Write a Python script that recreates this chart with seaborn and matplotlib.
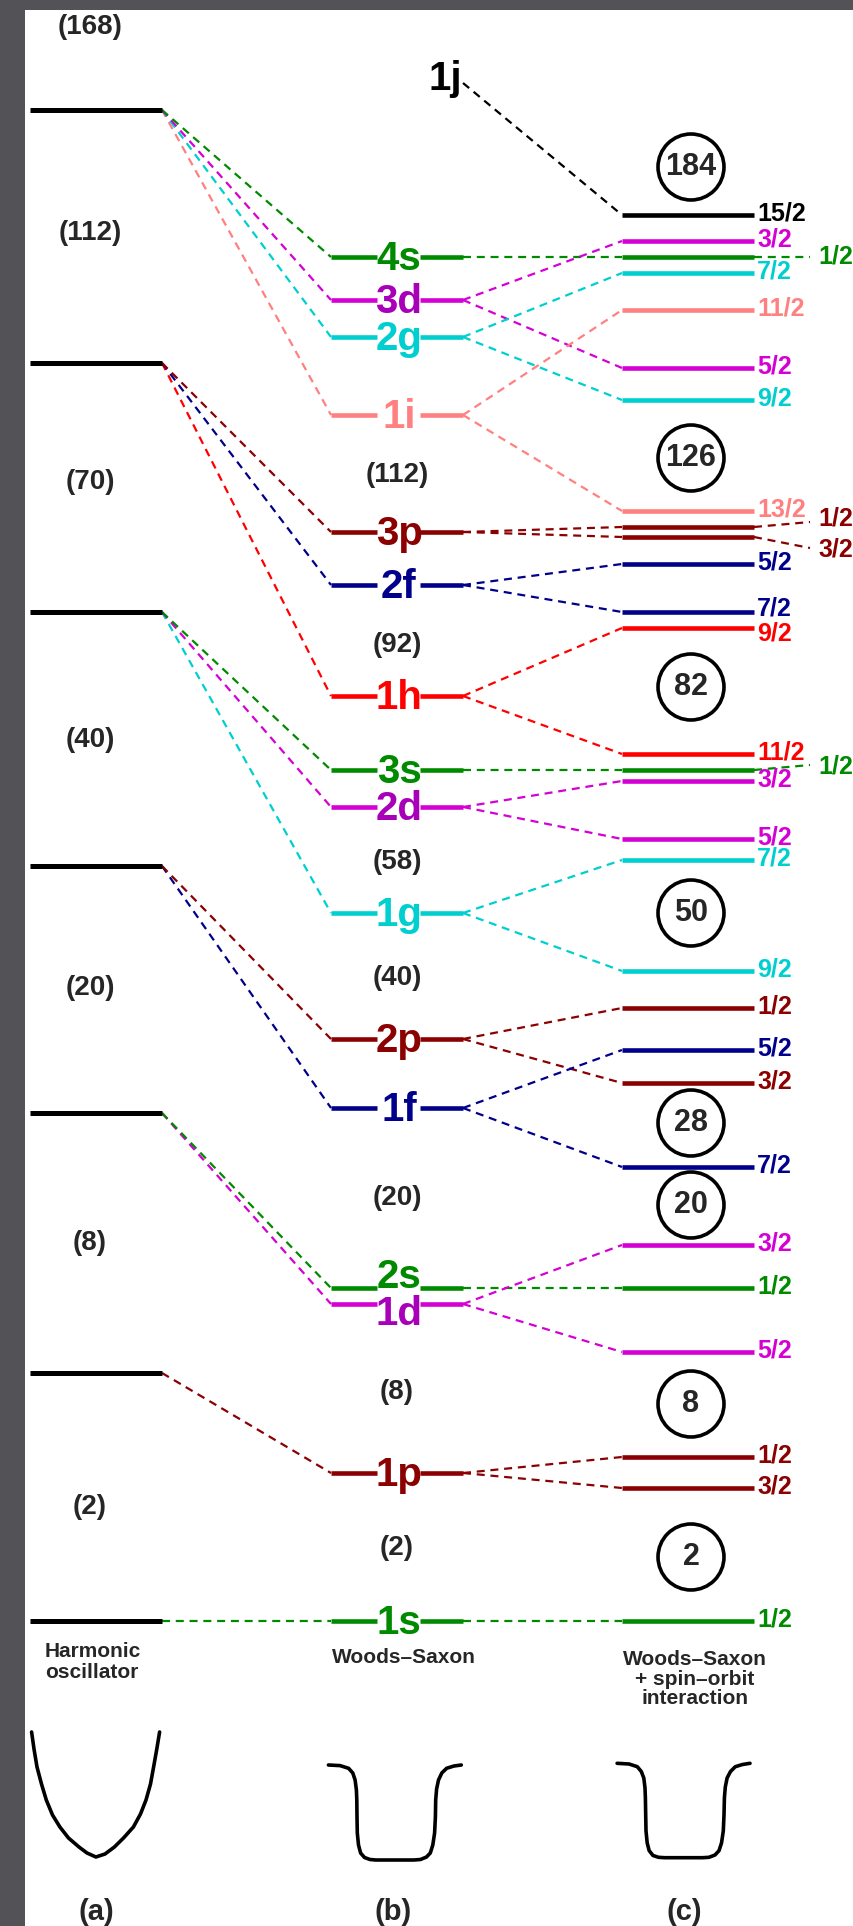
import matplotlib
matplotlib.use("Agg")
import matplotlib.pyplot as plt
import numpy as np
import pandas as pd
import seaborn as sns

sns.set_theme(style="white")
plt.rcParams["font.family"] = ["Liberation Sans", "DejaVu Sans"]
plt.rcParams["font.weight"] = "bold"

# ---------------------------------------------------------------- data
# harmonic oscillator shells N = 0..6 (energy, arbitrary units)
ho_energy = [0, 248, 508, 755, 1009, 1258, 1511]
ho_counts = ["(2)", "(8)", "(20)", "(40)", "(70)", "(112)", "(168)"]
ho_count_energy = [114, 378, 633, 881, 1139, 1388, 1594]

# Woods-Saxon orbitals
ws_orbitals = ["1s", "1p", "1d", "2s", "1f", "2p", "1g", "2d", "3s",
               "1h", "2f", "3p", "1i", "2g", "3d", "4s"]
ws_energy = [0, 148, 317, 333, 513, 582, 708, 814, 851,
             925, 1036, 1089, 1206, 1284, 1321, 1364]
ws_counts = ["(2)", "(8)", "(20)", "(40)", "(58)", "(92)", "(112)"]
ws_count_energy = [73, 229, 423, 643, 759, 976, 1146]
j1_energy = 1538  # 1j orbital, only labelled

# Woods-Saxon + spin-orbit sub-levels
so_orbital = ["1s", "1p", "1p", "1d", "2s", "1d", "1f", "2p", "1f", "2p",
              "1g", "1g", "2d", "2d", "3s", "1h", "1h", "2f", "2f", "3p",
              "3p", "1i", "2g", "3d", "1i", "2g", "4s", "3d", "1j"]
so_j = ["1/2", "3/2", "1/2", "5/2", "1/2", "3/2", "7/2", "3/2", "5/2", "1/2",
        "9/2", "7/2", "5/2", "3/2", "1/2", "11/2", "9/2", "7/2", "5/2", "3/2",
        "1/2", "13/2", "9/2", "5/2", "11/2", "7/2", "1/2", "3/2", "15/2"]
so_energy = [0, 133, 164, 269, 333, 376, 454, 538, 571, 613,
             650, 761, 782, 840, 851, 867, 993, 1009, 1057, 1084,
             1094, 1110, 1221, 1253, 1311, 1348, 1364, 1380, 1406]

magic_numbers = [2, 8, 20, 28, 50, 82, 126, 184]
magic_energy = [64, 217, 416, 498, 708, 934, 1163, 1454]

# schematic potential wells (r, V)
ho_well_r = [31.6, 34.0, 37.0, 41.5, 46.3, 52.5, 59.9, 68.5, 79.0, 87.0, 95.9,
             105.0, 114.4, 123.5, 133.4, 140.5, 146.0, 150.5, 153.6, 156.8, 159.6]
ho_well_v = [-111, -128, -146, -163, -179, -194, -206, -217, -226, -232, -236,
             -233, -226, -217, -206, -193, -179, -163, -146, -128, -111]
ws_well_r = [328.4, 340.0, 348.6, 352.8, 355.1, 356.4, 356.8, 357.0, 357.3, 358.5,
             360.6, 364.5, 370.0, 375.8, 413.9, 420.5, 426.5, 430.3, 432.8, 434.6,
             435.4, 435.7, 436.6, 438.5, 441.8, 446.6, 454.0, 461.3]
ws_well_v = [-144, -144.6, -147.3, -152, -159, -169, -179, -196, -212, -224,
             -232, -236.5, -238.5, -239, -239, -238.5, -236, -232, -224, -212,
             -196, -179, -168, -159, -152, -147.3, -145, -144]
so_well_r = [617.1, 629.0, 637.3, 641.3, 643.8, 645.0, 645.4, 645.7, 646.0, 647.2,
             649.2, 653.0, 658.5, 664.5, 702.6, 709.0, 715.0, 719.0, 721.5, 723.3,
             724.0, 724.4, 725.3, 727.1, 730.5, 735.3, 742.5, 750.0]
so_well_v = [-142.3, -143.0, -145.7, -150.5, -157, -167, -177, -194, -210, -222,
             -229.7, -234.5, -236.3, -236.7, -236.7, -236.3, -234, -229.7, -222, -210,
             -194, -177, -166, -157, -150.5, -145.7, -143.5, -142.3]

col_titles = ["Harmonic\noscillator", "Woods\u2013Saxon",
              "Woods\u2013Saxon\n+ spin\u2013orbit\ninteraction"]
panel_tags = ["(a)", "(b)", "(c)"]

# ---------------------------------------------------------------- style
family_color = {"s": "#008a00", "p": "#8b0000", "d": "#d400d4", "f": "#00008b",
                "g": "#00cfcf", "h": "#ff0000", "i": "#ff8080", "j": "#000000"}
ws_text_color = dict(family_color, d="#a800b8")
L_ORB = {"s": 0, "p": 1, "d": 2, "f": 3, "g": 4, "h": 5, "i": 6, "j": 7}

HO_X = (30, 162)
WS_X = (331, 463)
WS_GAP = (377, 420)
SO_X = (622, 754)
J_LABEL_X = 757
OUTER_X0, OUTER_X1 = 810, 816
ws_label_nudge = {"2s": 13, "1d": -8}
j_label_nudge = {("2f", "7/2"): 4, ("1h", "9/2"): -5}
# crowded sub-levels whose j label is moved outwards: (line end shift, label shift)
outer_label = {("4s", "1/2"): (0, 0), ("3s", "1/2"): (5, 3),
               ("3p", "1/2"): (5, 8), ("3p", "3/2"): (-11, -13)}

LEVEL_LW = 3.3
DASH_LW = 1.6
DASH = (0, (3.6, 2.6))


def shell_of(orb):
    n, l = int(orb[0]), L_ORB[orb[1]]
    return 2 * (n - 1) + l


# ---------------------------------------------------------------- figure
fig = plt.figure(figsize=(8.54, 19.26), dpi=100, facecolor="#525257")
ax = fig.add_axes([25 / 854, 0, 829 / 854, 1916 / 1926])
ax.set_facecolor("white")
ax.set_xlim(25, 854)
ax.set_ylim(-305, 1611)
ax.set_xticks([])
ax.set_yticks([])
for sp in ax.spines.values():
    sp.set_visible(False)

ws = pd.DataFrame({"orb": ws_orbitals, "E": ws_energy})
ws["shell"] = ws["orb"].map(shell_of)
ws["color"] = ws["orb"].str[1].map(family_color)
so = pd.DataFrame({"orb": so_orbital, "j": so_j, "E": so_energy})
so["color"] = so["orb"].str[1].map(family_color)
ws_E = dict(zip(ws["orb"], ws["E"]))
ws_E["1j"] = j1_energy

# harmonic oscillator levels and counts
ax.hlines(ho_energy, *HO_X, color="black", lw=3.6, zorder=3)
for txt, e in zip(ho_counts, ho_count_energy):
    ax.text(90, e, txt, ha="center", va="center", fontsize=20, zorder=4)

# HO -> WS connectors
for _, r in ws.iterrows():
    ax.plot([HO_X[1], WS_X[0]], [ho_energy[r["shell"]], r["E"]],
            color=r["color"], lw=DASH_LW, ls=DASH, zorder=2)

# WS levels with their names in the middle
for _, r in ws.iterrows():
    ax.hlines(r["E"], WS_X[0], WS_GAP[0], color=r["color"], lw=LEVEL_LW, zorder=3)
    ax.hlines(r["E"], WS_GAP[1], WS_X[1], color=r["color"], lw=LEVEL_LW, zorder=3)
    ax.text(399, r["E"] - 13 + ws_label_nudge.get(r["orb"], 0), r["orb"],
            ha="center", va="baseline", fontsize=29,
            color=ws_text_color[r["orb"][1]], zorder=4)
for txt, e in zip(ws_counts, ws_count_energy):
    ax.text(397, e, txt, ha="center", va="center", fontsize=20, zorder=4)
ax.text(445, j1_energy - 7, "1j", ha="center", va="baseline", fontsize=29,
        color="black", zorder=4)

# WS -> SO connectors, SO levels and j labels
for _, r in so.iterrows():
    ax.plot([WS_X[1], SO_X[0]], [ws_E[r["orb"]], r["E"]],
            color=r["color"], lw=DASH_LW, ls=DASH, zorder=2)
    ax.hlines(r["E"], *SO_X, color=r["color"], lw=LEVEL_LW, zorder=3)
    key = (r["orb"], r["j"])
    if key in outer_label:
        d_line, d_lab = outer_label[key]
        ax.plot([SO_X[1], OUTER_X0], [r["E"], r["E"] + d_line],
                color=r["color"], lw=DASH_LW, ls=DASH, zorder=2)
        ax.text(OUTER_X1 + 2, r["E"] + d_lab + 1, r["j"], ha="left", va="center",
                fontsize=18, color=r["color"], zorder=4)
    else:
        ax.text(J_LABEL_X, r["E"] + j_label_nudge.get(key, 2), r["j"],
                ha="left", va="center", fontsize=18, color=r["color"], zorder=4)

# magic numbers in circles
ax.scatter([691] * len(magic_energy), magic_energy, s=47.5 ** 2,
           facecolors="none", edgecolors="black", linewidths=2.6, zorder=3)
for m, e in zip(magic_numbers, magic_energy):
    ax.text(691, e, str(m), ha="center", va="center", fontsize=22, zorder=4)

# column titles
ax.text(45, -41, col_titles[0], ha="left", va="center", fontsize=15,
        linespacing=1.1)
ax.text(404, -36, col_titles[1], ha="center", va="center", fontsize=15)
ax.text(695, -58, col_titles[2], ha="center", va="center", fontsize=15,
        linespacing=1.05)

# potential wells
for r_, v_ in [(ho_well_r, ho_well_v), (ws_well_r, ws_well_v), (so_well_r, so_well_v)]:
    sns.lineplot(x=r_, y=v_, sort=False, estimator=None, color="black",
                 lw=2.6, ax=ax)
ax.set_xlabel("")
ax.set_ylabel("")

for x, t in zip([96, 393, 684], panel_tags):
    ax.text(x, -291, t, ha="center", va="center", fontsize=21)

fig.savefig("out.png", dpi=100, facecolor=fig.get_facecolor())
